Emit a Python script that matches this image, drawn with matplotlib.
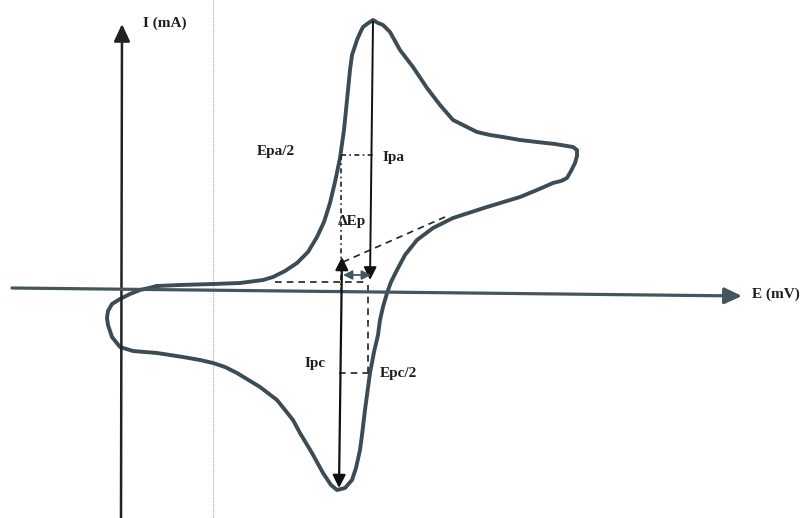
import matplotlib.pyplot as plt

# cyclic voltammogram (schematic units, origin at the axes crossing)
E = [36, 59, 92, 119, 142, 152, 164, 176, 187, 196, 203, 209, 214, 219, 223,
     226, 229, 231, 236, 239, 242, 246, 252, 257, 262, 269, 279, 292, 306, 319,
     332, 344, 356, 369, 382, 399, 416, 434, 452, 456, 456, 454, 450, 446, 440,
     432, 416, 399, 366, 332, 312, 296, 284, 276, 270, 266, 262, 259, 257, 253,
     249, 246, 244, 241, 239, 235, 231, 224, 216, 210, 202, 191, 179, 172, 156,
     139, 116, 104, 92, 79, 62, 36, 12, -1, -9, -13, -14, -13, -9, -1,
     9, 19, 28, 36]
I = [3, 4, 5, 6, 9, 12, 18, 26, 37, 52, 67, 86, 107, 131, 159,
     189, 219, 234, 249, 256, 262, 265, 269, 266, 264, 257, 239, 222, 201, 184,
     169, 163, 157, 154, 152, 149, 147, 145, 142, 139, 133, 126, 118, 111, 108,
     106, 99, 92, 82, 71, 61, 49, 34, 19, 7, -4, -18, -31, -46, -63,
     -84, -106, -121, -146, -161, -179, -191, -199, -201, -196, -184, -164, -144, -131, -111,
     -98, -84, -78, -74, -71, -68, -64, -62, -58, -48, -36, -29, -22, -15, -10,
     -5, -1, 1, 3]

# characteristic points
Epa, Ipa = 252, 269
Epc, Ipc = 218, -199
Epa_half, Ia_half = 220, 134
Epc_half, Ic_half = 247, -84
anodic_base = ([154, 247], [7, 7])
cathodic_base = ([222, 324], [27, 72])
dEp_level = 14
page_edge = 92

curve_col = '#3d4b54'
axis_col = '#45555e'
text_col = '#1e1e1e'

fig = plt.figure(figsize=(8, 5.18), dpi=100)
ax = fig.add_axes([0, 0, 1, 1])
ax.set_xlim(-121, 679)
ax.set_ylim(-229, 289)
ax.axis('off')

# faint vertical line
ax.plot([page_edge, page_edge], [-229, 289], color='#a8a8a8', lw=0.8, ls=(0, (1, 1)))

# axes with arrows
head = dict(arrowstyle='-|>,head_length=0.75,head_width=0.35', mutation_scale=14)
ax.annotate('', xy=(1, 265), xytext=(0, -229),
            arrowprops=dict(color='#222222', lw=1.8, shrinkA=0, shrinkB=0, **head))
ax.annotate('', xy=(621, -7), xytext=(-109, 1),
            arrowprops=dict(color=axis_col, lw=2.3, shrinkA=0, shrinkB=0, **head))

# CV curve
ax.plot(E, I, color=curve_col, lw=2.8, solid_joinstyle='round', solid_capstyle='round')

# construction lines
dash = dict(color='#222222', lw=1.2, ls=(0, (4, 3)))
ax.plot([Epa_half, Epa_half], [Ia_half, -3], color='#222222', lw=1.2, ls=(0, (3, 2, 1, 2)))
ax.plot([Epa_half, Epa], [Ia_half, Ia_half], color='#222222', lw=1.2, ls=(0, (3, 2, 1, 2)))
ax.plot(*anodic_base, **dash)
ax.plot(*cathodic_base, **dash)
ax.plot([Epc_half, Epc_half], [4, Ic_half], **dash)
ax.plot([Epc, Epc_half], [Ic_half, Ic_half], **dash)

# Ipa, Ipc and delta Ep arrows
small = dict(arrowstyle='-|>,head_length=0.7,head_width=0.35', mutation_scale=11)
ax.annotate('', xy=(Epa - 3, 9), xytext=(Epa, Ipa - 2),
            arrowprops=dict(color='#111111', lw=1.4, shrinkA=0, shrinkB=0, **small))
ax.annotate('', xy=(Epc + 3, 32), xytext=(Epc, Ipc),
            arrowprops=dict(color='#111111', lw=1.6, shrinkA=0, shrinkB=0,
                            arrowstyle='<|-|>,head_length=0.7,head_width=0.35',
                            mutation_scale=11))
ax.annotate('', xy=(Epa - 2, dEp_level), xytext=(Epc + 4, dEp_level),
            arrowprops=dict(color=axis_col, lw=1.3, shrinkA=0, shrinkB=0,
                            arrowstyle='<|-|>,head_length=0.6,head_width=0.3',
                            mutation_scale=9))

# labels
lab = dict(fontfamily='Liberation Serif', fontweight='bold', fontsize=11,
           color=text_col, va='center', ha='left')
ax.text(22, 266, 'I (mA)', **lab)
ax.text(631, -5, 'E (mV)', **lab)
ax.text(136, 138, 'Epa/2', **lab)
ax.text(262, 132, 'Ipa', **lab)
ax.text(217, 67, '\u0394Ep', **lab)
ax.text(184, -75, 'Ipc', **lab)
ax.text(259, -85, 'Epc/2', **lab)

fig.savefig('out.png', dpi=100, facecolor='white')
